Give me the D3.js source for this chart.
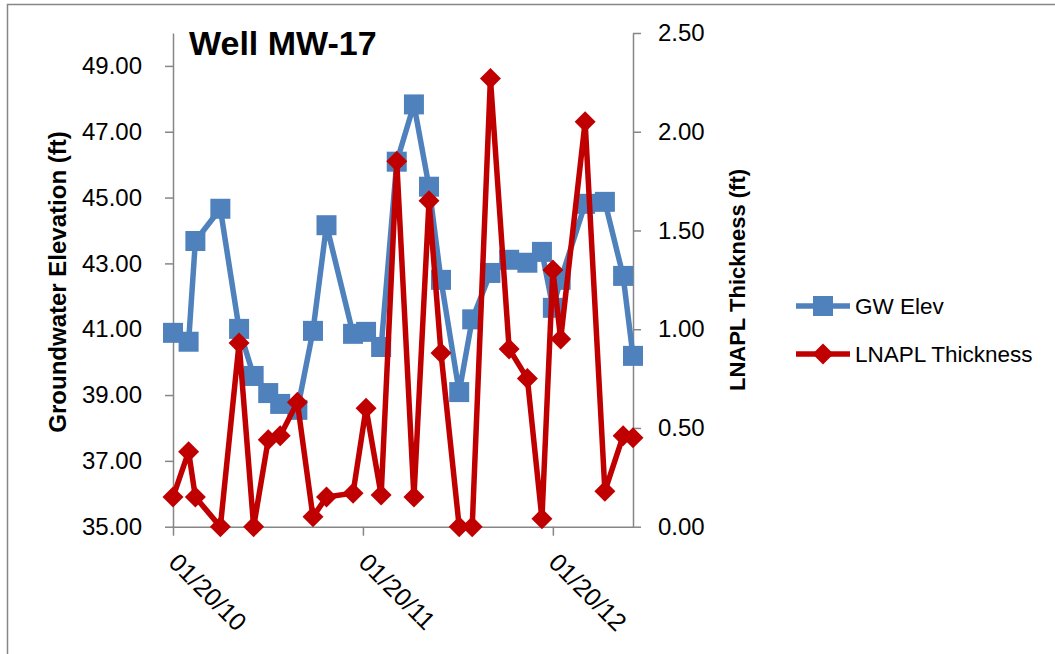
<!DOCTYPE html>
<html>
<head>
<meta charset="utf-8">
<script src="https://d3js.org/d3.v7.min.js"></script>
<style>
  body { margin: 0; background: #fff; }
  svg { display: block; font-family: "Liberation Sans", Arial, sans-serif; }
  .axis path, .axis line { stroke: #868686; stroke-width: 1.5px; }
  .axis text { fill: #000; font-size: 24px; }
</style>
</head>
<body>
<script>
// sampling dates
var dates = ["2010-01-20", "2010-02-19", "2010-03-04", "2010-04-21", "2010-05-27",
             "2010-06-24", "2010-07-22", "2010-08-14", "2010-09-16", "2010-10-16",
             "2010-11-11", "2011-01-01", "2011-01-26", "2011-02-24", "2011-03-26",
             "2011-04-28", "2011-05-27", "2011-06-19", "2011-07-24", "2011-08-18",
             "2011-09-22", "2011-10-28", "2011-12-02", "2011-12-30", "2012-01-20",
             "2012-02-04", "2012-03-22", "2012-04-29", "2012-06-03", "2012-06-22"];

// groundwater elevation (ft), left axis
var gwElev = [40.89, 40.62, 43.68, 44.66, 41.01, 39.58, 39.06, 38.73, 38.55, 40.95,
              44.16, 40.86, 40.92, 40.46, 46.09, 47.83, 45.33, 42.50, 39.09, 41.30,
              42.71, 43.11, 43.02, 43.35, 41.65, 42.50, 44.81, 44.87, 42.62, 40.19];

// LNAPL thickness (ft), right axis
var lnapl = [0.15, 0.38, 0.15, 0.00, 0.93, 0.00, 0.44, 0.46, 0.63, 0.05,
             0.15, 0.17, 0.60, 0.16, 1.85, 0.15, 1.65, 0.88, 0.00, 0.00,
             2.27, 0.90, 0.75, 0.04, 1.30, 0.95, 2.05, 0.18, 0.46, 0.45];

var leftTicks = [35, 37, 39, 41, 43, 45, 47, 49];
var rightTicks = [0, 0.5, 1.0, 1.5, 2.0, 2.5];
var xTicks = ["2010-01-20", "2011-01-20", "2012-01-20"];

var seriesNames = ["GW Elev", "LNAPL Thickness"];
var blue = "#4f81bd", red = "#c00000";

var width = 1055, height = 654;
var plot = {left: 173, right: 633, top: 33, bottom: 526.7};

var parse = d3.utcParse("%Y-%m-%d");

var svg = d3.select("body").append("svg")
    .attr("width", width)
    .attr("height", height);

// chart area border
svg.append("rect")
    .attr("x", 7.5).attr("y", 4.5)
    .attr("width", 1200).attr("height", 800)
    .attr("fill", "none")
    .attr("stroke", "#868686")
    .attr("stroke-width", 1.5);

//Scales
var xScale = d3.scaleUtc()
    .domain([parse(dates[0]), parse(dates[dates.length - 1])])
    .range([plot.left, plot.right]);
var yLeft = d3.scaleLinear().domain([35, 50]).range([plot.bottom, plot.top]);
var yRight = d3.scaleLinear().domain([0, 2.5]).range([plot.bottom, plot.top]);

//Axes
var xAxis = d3.axisBottom(xScale)
    .tickValues(xTicks.map(parse))
    .tickFormat(d3.utcFormat("%m/%d/%y"))
    .tickSizeInner(9).tickSizeOuter(0);
var leftAxis = d3.axisLeft(yLeft)
    .tickValues(leftTicks)
    .tickFormat(d3.format(".2f"))
    .tickSizeInner(8).tickSizeOuter(0).tickPadding(23);
var rightAxis = d3.axisRight(yRight)
    .tickValues(rightTicks)
    .tickFormat(d3.format(".2f"))
    .tickSizeInner(8).tickSizeOuter(0).tickPadding(17);

var gx = svg.append("g")
    .attr("class", "axis")
    .attr("transform", "translate(0," + plot.bottom + ")")
    .call(xAxis);
gx.selectAll("text")
    .attr("transform", function(d) { return "translate(0,31) rotate(45)"; })
    .attr("y", 0).attr("x", 0)
    .attr("dy", "0.35em")
    .style("font-size", "25px")
    .style("text-anchor", "start");

svg.append("g")
    .attr("class", "axis")
    .attr("transform", "translate(" + plot.left + ",0)")
    .call(leftAxis);

svg.append("g")
    .attr("class", "axis")
    .attr("transform", "translate(" + plot.right + ",0)")
    .call(rightAxis);

//Axis titles
svg.append("text")
    .attr("transform", "translate(66,282) rotate(-90)")
    .style("text-anchor", "middle")
    .style("font-weight", "bold")
    .style("font-size", "24px")
    .text("Groundwater Elevation (ft)");

svg.append("text")
    .attr("transform", "translate(745,280) rotate(-90)")
    .style("text-anchor", "middle")
    .style("font-weight", "bold")
    .style("font-size", "22px")
    .text("LNAPL Thickness (ft)");

//Chart title
svg.append("text")
    .attr("x", 189).attr("y", 55)
    .style("font-weight", "bold")
    .style("font-size", "34px")
    .text("Well MW-17");

//Data
var data = dates.map(function(d, i) {
    return {date: parse(d), gw: gwElev[i], ln: lnapl[i]};
});

var gwLine = d3.line()
    .x(function(d) { return xScale(d.date); })
    .y(function(d) { return yLeft(d.gw); });
var lnLine = d3.line()
    .x(function(d) { return xScale(d.date); })
    .y(function(d) { return yRight(d.ln); });

var sq = 20, dm = 10.5;
var diamondPath = "M0," + (-dm) + "L" + dm + ",0L0," + dm + "L" + (-dm) + ",0Z";

//GW Elev series
svg.append("path")
    .datum(data)
    .attr("d", gwLine)
    .attr("fill", "none")
    .attr("stroke", blue)
    .attr("stroke-width", 5.5)
    .attr("stroke-linejoin", "round");

svg.selectAll(".gwdot")
    .data(data)
    .enter().append("rect")
    .attr("class", "gwdot")
    .attr("x", function(d) { return xScale(d.date) - sq / 2; })
    .attr("y", function(d) { return yLeft(d.gw) - sq / 2; })
    .attr("width", sq).attr("height", sq)
    .attr("fill", blue);

//LNAPL series
svg.append("path")
    .datum(data)
    .attr("d", lnLine)
    .attr("fill", "none")
    .attr("stroke", red)
    .attr("stroke-width", 5.5)
    .attr("stroke-linejoin", "round");

svg.selectAll(".lndot")
    .data(data)
    .enter().append("path")
    .attr("class", "lndot")
    .attr("d", diamondPath)
    .attr("transform", function(d) {
        return "translate(" + xScale(d.date) + "," + yRight(d.ln) + ")";
    })
    .attr("fill", red);

//Legend
var legend = svg.append("g").attr("transform", "translate(796,306)");
var rows = legend.selectAll("g")
    .data(seriesNames)
    .enter().append("g")
    .attr("transform", function(d, i) { return "translate(0," + (i * 48) + ")"; });

rows.append("line")
    .attr("x1", 0).attr("x2", 54)
    .attr("y1", 0).attr("y2", 0)
    .attr("stroke", function(d, i) { return i === 0 ? blue : red; })
    .attr("stroke-width", 5.5);

rows.filter(function(d, i) { return i === 0; })
    .append("rect")
    .attr("x", 27 - sq / 2).attr("y", -sq / 2)
    .attr("width", sq).attr("height", sq)
    .attr("fill", blue);

rows.filter(function(d, i) { return i === 1; })
    .append("path")
    .attr("d", diamondPath)
    .attr("transform", "translate(27,0)")
    .attr("fill", red);

rows.append("text")
    .attr("x", 59).attr("y", 0)
    .attr("dy", "0.35em")
    .style("font-size", "22.5px")
    .text(function(d) { return d; });
</script>
</body>
</html>
